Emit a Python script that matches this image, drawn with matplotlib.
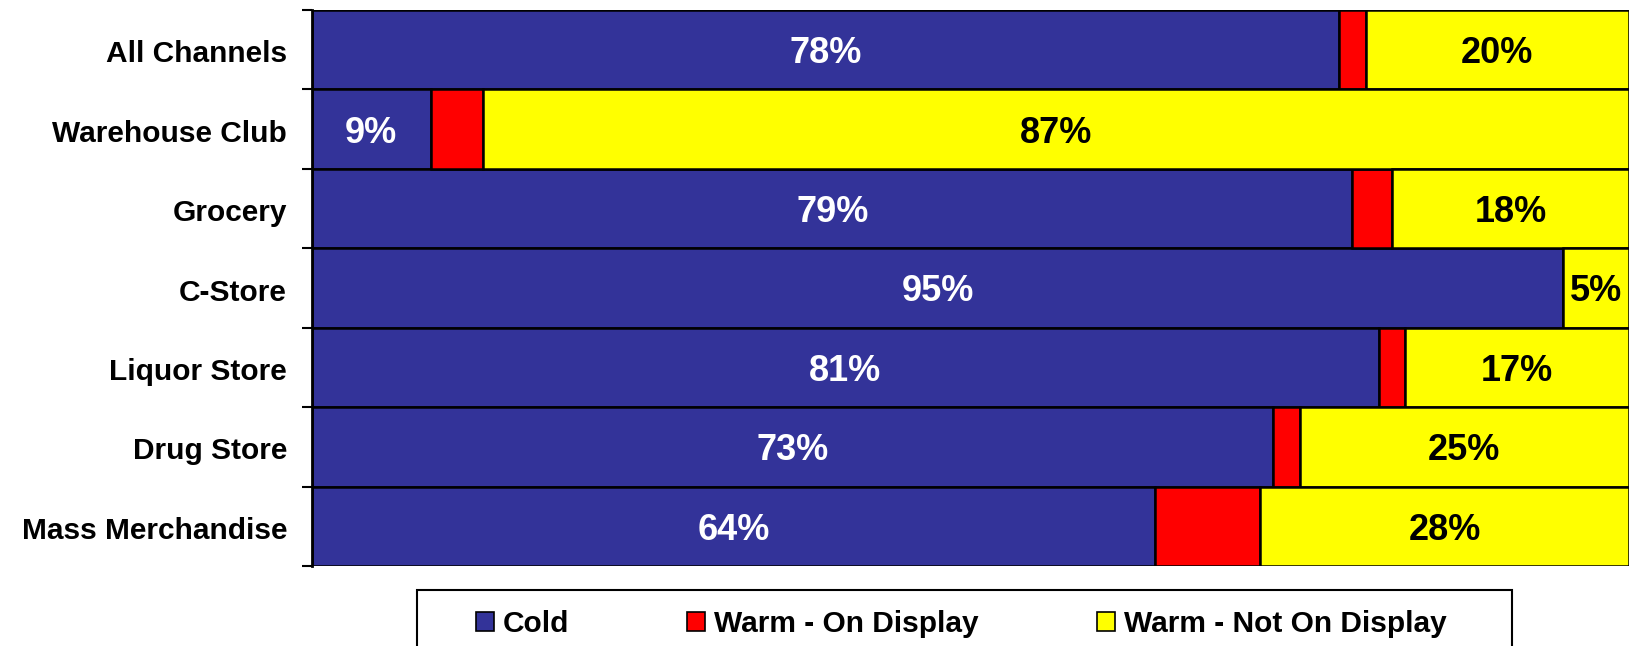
import matplotlib
matplotlib.use("Agg")
import matplotlib.pyplot as plt
from matplotlib.patches import Rectangle, Patch
import numpy as np

plt.rcParams['font.family'] = ['Liberation Sans', 'DejaVu Sans']
plt.rcParams['font.weight'] = 'bold'

channels = ['All Channels', 'Warehouse Club', 'Grocery', 'C-Store',
            'Liquor Store', 'Drug Store', 'Mass Merchandise']
cold = [78, 9, 79, 95, 81, 73, 64]
not_on_display = [20, 87, 18, 5, 17, 25, 28]
on_display = [100 - c - n for c, n in zip(cold, not_on_display)]

series_names = ['Cold', 'Warm - On Display', 'Warm - Not On Display']
colors = ['#333399', '#FF0000', '#FFFF00']

W, H = 1629, 646
fig = plt.figure(figsize=(W / 100, H / 100), dpi=100)
ax = fig.add_axes([312 / W, 1 - 566 / H, (W - 312) / W, (566 - 10) / H])

y = np.arange(len(channels))
left = np.zeros(len(channels))
for vals, col in zip([cold, on_display, not_on_display], colors):
    ax.barh(y, vals, left=left, height=1.0, color=col,
            edgecolor='black', linewidth=1.8)
    left += np.array(vals)

# percentage labels on the cold and not-on-display segments
for i in range(len(channels)):
    ty = y[i] + 0.05
    ax.text(cold[i] / 2, ty, f'{cold[i]}%', ha='center', va='center',
            color='white', fontsize=26, fontweight='bold')
    x_yel = cold[i] + on_display[i] + not_on_display[i] / 2
    ax.text(x_yel, ty, f'{not_on_display[i]}%', ha='center', va='center',
            color='black', fontsize=26, fontweight='bold')

ax.set_xlim(0, 100)
ax.set_ylim(len(channels) - 0.5, -0.5)
ax.set_xticks([])

# tick marks between categories, labels at the bar centres
ax.set_yticks(np.arange(len(channels) + 1) - 0.5)
ax.set_yticklabels([])
ax.tick_params(axis='y', which='major', length=7, width=1.5, direction='out')
ax.set_yticks(y + 0.02, minor=True)
ax.set_yticklabels(channels, minor=True, fontsize=21.5, fontweight='bold')
ax.tick_params(axis='y', which='minor', length=0, pad=18)

for s in ['top', 'right', 'bottom']:
    ax.spines[s].set_visible(False)
ax.spines['left'].set_linewidth(2)

# legend box running off the bottom edge
fig.patches.append(Rectangle((417 / W, -0.05), (1512 - 417) / W, 0.05 + 1 - 590 / H,
                             transform=fig.transFigure, facecolor='white',
                             edgecolor='black', linewidth=1.5))
handles = [Patch(facecolor=c, edgecolor='black', linewidth=1.2) for c in colors]
fig.legend(handles, series_names, loc='center left',
           bbox_to_anchor=(476 / W, 1 - 624 / H), ncol=3, frameon=False,
           prop={'weight': 'bold', 'size': 21.5},
           handlelength=0.6, handleheight=0.6, handletextpad=0.3,
           columnspacing=3.95, borderpad=0, borderaxespad=0)

fig.savefig('out.png', dpi=100)
